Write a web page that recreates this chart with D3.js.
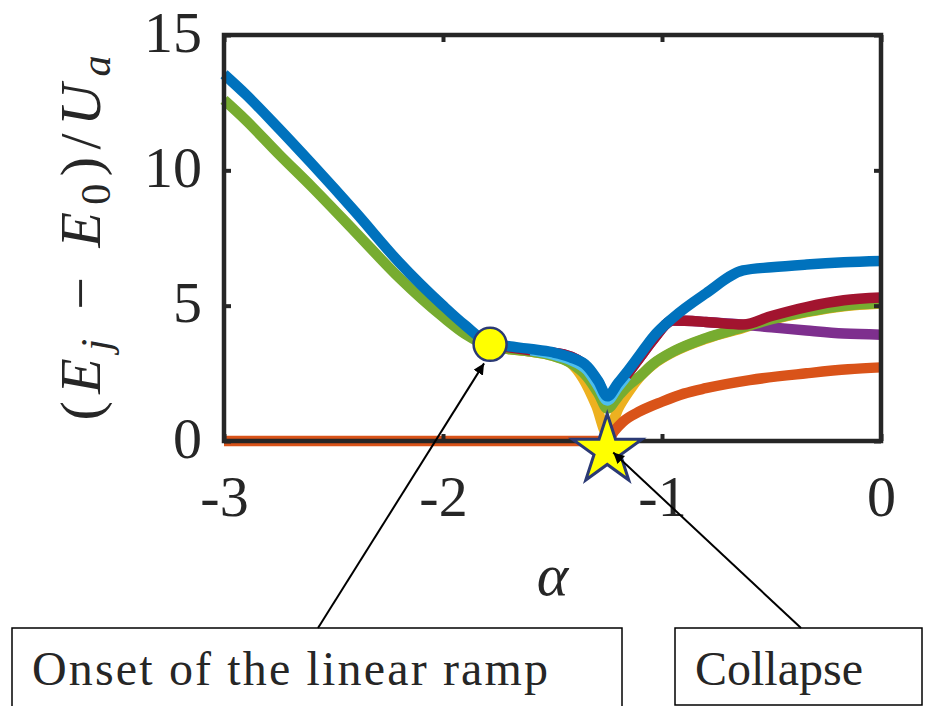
<!DOCTYPE html>
<html>
<head>
<meta charset="utf-8">
<script src="https://cdn.jsdelivr.net/npm/d3@7"></script>
<style>
  body { margin: 0; background: #fff; }
  svg { display: block; }
  text { font-family: "Liberation Serif", "DejaVu Serif", serif; fill: #262626; }
</style>
</head>
<body>
<div id="chart"></div>
<script>
// axis ticks
var alphaTicks = [-3, -2, -1, 0];
var energyTicks = [0, 5, 10, 15];

// levels (E_j - E_0)/U_a against alpha
var blueA = [-3, -2.9, -2.75, -2.6, -2.4, -2.2, -2.0, -1.9, -1.785, -1.7, -1.6, -1.5, -1.42, -1.34, -1.29, -1.25, -1.2, -1.16, -1.1, -1.04, -0.95, -0.8, -0.63, -0.5, -0.34, -0.17, 0];
var blueV = [13.55, 12.8, 11.55, 10.25, 8.46, 6.6, 5.0, 4.28, 3.6, 3.5, 3.4, 3.28, 3.1, 2.75, 2.2, 1.65, 2.15, 2.55, 3.2, 3.85, 4.55, 5.45, 6.3, 6.42, 6.52, 6.6, 6.65];

var greenA = [-3, -2.9, -2.75, -2.6, -2.4, -2.2, -2.0, -1.9, -1.785, -1.7, -1.6, -1.5, -1.42, -1.34, -1.29, -1.25, -1.2, -1.16, -1.1, -1.04, -0.95, -0.8, -0.63, -0.5, -0.34, -0.17, 0];
var greenV = [12.6, 11.85, 10.6, 9.4, 7.72, 6.03, 4.58, 3.96, 3.5, 3.4, 3.3, 3.15, 2.9, 2.35, 1.75, 1.2, 1.65, 2.0, 2.4, 2.85, 3.3, 3.8, 4.2, 4.5, 4.78, 5.0, 5.1];

var redA = [-1.785, -1.6, -1.45, -1.34, -1.29, -1.25, -1.2, -1.16, -1.1, -1.04, -0.95, -0.8, -0.63, -0.5, -0.34, -0.17, 0];
var redV = [3.55, 3.35, 3.2, 2.7, 2.15, 1.55, 2.05, 2.45, 3.1, 3.75, 4.45, 4.4, 4.3, 4.62, 4.95, 5.2, 5.3];

var purpleA = [-1.785, -1.6, -1.45, -1.34, -1.29, -1.25, -1.2, -1.16, -1.1, -1.04, -0.95, -0.8, -0.63, -0.5, -0.34, -0.17, 0];
var purpleV = [3.55, 3.35, 3.2, 2.7, 2.15, 1.55, 2.05, 2.45, 3.1, 3.75, 4.45, 4.4, 4.3, 4.2, 4.08, 3.97, 3.93];

var lightBlueA = [-1.6, -1.5, -1.42, -1.34, -1.29, -1.25, -1.2, -1.16];
var lightBlueV = [3.35, 3.2, 3.0, 2.6, 2.0, 1.5, 2.0, 2.4];

var yellowA = [-1.785, -1.7, -1.6, -1.5, -1.42, -1.36, -1.3, -1.25, -1.2, -1.15, -1.1, -1.04, -0.95, -0.8, -0.63, -0.5, -0.34, -0.17, 0];
var yellowV = [3.5, 3.4, 3.3, 3.15, 2.9, 2.3, 1.3, 0.25, 1.2, 1.85, 2.38, 2.83, 3.28, 3.78, 4.18, 4.48, 4.76, 4.98, 5.08];

var orangeA = [-3, -1.25, -1.22, -1.18, -1.1, -1.0, -0.9, -0.8, -0.6, -0.34, -0.15, 0];
var orangeV = [0, 0, 0.35, 0.7, 1.1, 1.45, 1.75, 1.95, 2.25, 2.5, 2.65, 2.72];

// markers: onset (circle) and collapse (star)
var onsetPoint = [-1.785, 3.57];
var collapsePoint = [-1.25, -0.35];

var width = 928, height = 706;
var margin = {t: 35, r: 47, b: 265, l: 224};
var w = width - margin.l - margin.r,
    h = height - margin.t - margin.b;

var svg = d3.select('#chart').append('svg')
    .attr('width', width)
    .attr('height', height);

var scaleX = d3.scaleLinear().domain([-3, 0]).range([margin.l, margin.l + w]);
var scaleY = d3.scaleLinear().domain([0, 15]).range([margin.t + h, margin.t]);

var defs = svg.append('defs');
defs.append('marker')
    .attr('id', 'head')
    .attr('viewBox', '0 0 10 10')
    .attr('refX', 10).attr('refY', 5)
    .attr('markerWidth', 11).attr('markerHeight', 11)
    .attr('markerUnits', 'userSpaceOnUse')
    .attr('orient', 'auto')
    .append('path')
    .attr('d', 'M0,0 L10,5 L0,10 Z')
    .attr('fill', '#000');

// draw order: bottom to top
var series = [
    {a: yellowA, v: yellowV, c: '#EDB120'},
    {a: orangeA, v: orangeV, c: '#D95319'},
    {a: purpleA, v: purpleV, c: '#7E2F8E'},
    {a: greenA, v: greenV, c: '#77AC30'},
    {a: redA, v: redV, c: '#A2142F'},
    {a: lightBlueA, v: lightBlueV, c: '#4DBEEE'},
    {a: blueA, v: blueV, c: '#0072BD'}
];

var line = d3.line()
    .x(function(d){ return scaleX(d[0]); })
    .y(function(d){ return scaleY(d[1]); })
    .curve(d3.curveMonotoneX);

svg.append('g').attr('class', 'levels')
    .selectAll('path')
    .data(series)
    .enter().append('path')
    .attr('d', function(s){ return line(s.a.map(function(x, i){ return [x, s.v[i]]; })); })
    .attr('fill', 'none')
    .attr('stroke', function(s){ return s.c; })
    .attr('stroke-width', 10.5)
    .attr('stroke-linejoin', 'round');

// axes as a box with inward ticks on all sides
var axisBottom = d3.axisBottom(scaleX).tickValues(alphaTicks).tickSizeInner(-7).tickSizeOuter(0).tickPadding(33)
    .tickFormat(function(d){ return d; });
var axisTop = d3.axisTop(scaleX).tickValues(alphaTicks).tickSizeInner(-7).tickSizeOuter(0).tickFormat('');
var axisLeft = d3.axisLeft(scaleY).tickValues(energyTicks).tickSizeInner(-7).tickSizeOuter(0).tickPadding(22);
var axisRight = d3.axisRight(scaleY).tickValues(energyTicks).tickSizeInner(-7).tickSizeOuter(0).tickFormat('');

var gx = svg.append('g').attr('transform', 'translate(0,' + (margin.t + h) + ')').call(axisBottom);
var gx2 = svg.append('g').attr('transform', 'translate(0,' + margin.t + ')').call(axisTop);
var gy = svg.append('g').attr('transform', 'translate(' + margin.l + ',0)').call(axisLeft);
var gy2 = svg.append('g').attr('transform', 'translate(' + (margin.l + w) + ',0)').call(axisRight);

[gx, gx2, gy, gy2].forEach(function(g){
    g.select('.domain').remove();
    g.selectAll('.tick line').attr('stroke', '#262626').attr('stroke-width', 4);
    g.selectAll('.tick text').attr('fill', '#262626')
        .style('font-family', '"Liberation Serif", serif').style('font-size', '58px');
});
gy.selectAll('.tick text').attr('dy', '0.28em');
gx.selectAll('.tick text').attr('dy', '0.72em');

svg.append('rect')
    .attr('x', margin.l).attr('y', margin.t)
    .attr('width', w).attr('height', h)
    .attr('fill', 'none')
    .attr('stroke', '#262626')
    .attr('stroke-width', 4.5);

// axis labels
svg.append('text')
    .attr('x', scaleX(-1.5))
    .attr('y', 595)
    .attr('text-anchor', 'middle')
    .style('font-size', '60px')
    .style('font-style', 'italic')
    .text('\u03B1');

var ylab = svg.append('text')
    .attr('transform', 'translate(100,' + (margin.t + h / 2) + ') rotate(-90)')
    .attr('text-anchor', 'middle')
    .attr('textLength', 365)
    .attr('lengthAdjust', 'spacing')
    .style('font-size', '58px');
ylab.append('tspan').text('(');
ylab.append('tspan').style('font-style', 'italic').text('E');
ylab.append('tspan').style('font-style', 'italic').style('font-size', '42px').attr('dy', 10).text('j');
ylab.append('tspan').attr('dy', -10).text(' \u2212 ');
ylab.append('tspan').style('font-style', 'italic').text('E');
ylab.append('tspan').style('font-size', '42px').attr('dy', 10).text('0');
ylab.append('tspan').attr('dy', -10).text(')/');
ylab.append('tspan').style('font-style', 'italic').text('U');
ylab.append('tspan').style('font-style', 'italic').style('font-size', '42px').attr('dy', 10).text('a');

// annotations
var notes = [
    {text: 'Onset of the linear ramp', box: [12, 628, 610, 100], len: 516, tail: [318, 628], target: onsetPoint, off: [-6, 19]},
    {text: 'Collapse', box: [675, 628, 247, 77], len: null, tail: [801, 628], target: collapsePoint, off: [6, 2]}
];

notes.forEach(function(n){
    svg.append('rect')
        .attr('x', n.box[0]).attr('y', n.box[1])
        .attr('width', n.box[2]).attr('height', n.box[3])
        .attr('fill', '#fff')
        .attr('stroke', '#000')
        .attr('stroke-width', 1.5);
    var t = svg.append('text')
        .attr('x', n.box[0] + 20)
        .attr('y', 685)
        .style('font-size', '48px')
        .attr('fill', '#000')
        .text(n.text);
    if (n.len) t.attr('textLength', n.len).attr('lengthAdjust', 'spacing');
});

// circle marker
svg.append('circle')
    .attr('cx', scaleX(onsetPoint[0]))
    .attr('cy', scaleY(onsetPoint[1]))
    .attr('r', 16.5)
    .attr('fill', '#FFFF00')
    .attr('stroke', '#2B3A75')
    .attr('stroke-width', 2.5);

// star marker
var star = d3.symbol().type(d3.symbolStar).size(1500);
svg.append('path')
    .attr('d', star())
    .attr('transform', 'translate(' + scaleX(collapsePoint[0]) + ',' + scaleY(collapsePoint[1]) + ')')
    .attr('fill', '#FFFF00')
    .attr('stroke', '#2B3A75')
    .attr('stroke-width', 3);

// arrows from boxes to markers
notes.forEach(function(n){
    svg.append('line')
        .attr('x1', n.tail[0]).attr('y1', n.tail[1])
        .attr('x2', scaleX(n.target[0]) + n.off[0])
        .attr('y2', scaleY(n.target[1]) + n.off[1])
        .attr('stroke', '#000')
        .attr('stroke-width', 2)
        .attr('marker-end', 'url(#head)');
});
</script>
</body>
</html>
